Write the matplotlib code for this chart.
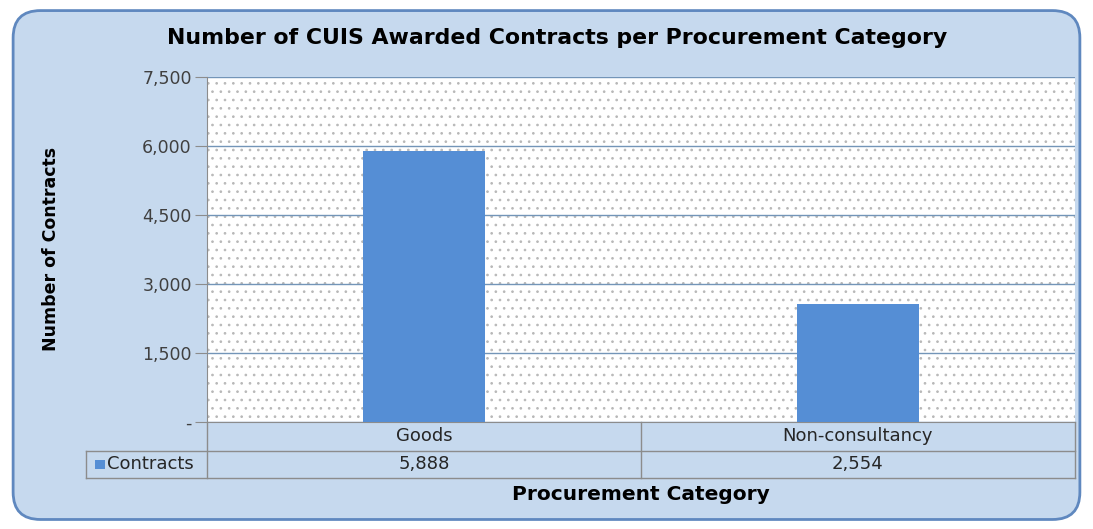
import matplotlib.pyplot as plt
from matplotlib.patches import FancyBboxPatch, Rectangle
import matplotlib.transforms as mtransforms

categories = ["Goods", "Non-consultancy"]
contracts = [5888, 2554]
series_name = "Contracts"
yticks = [0, 1500, 3000, 4500, 6000, 7500]
ytick_labels = ["-", "1,500", "3,000", "4,500", "6,000", "7,500"]

plt.rcParams['font.family'] = ['DejaVu Sans']
plt.rcParams['hatch.linewidth'] = 0.7

bar_color = '#558ed5'
grid_color = '#7395b8'
line_color = '#8c8c8c'
text_color = '#262626'

fig = plt.figure(figsize=(10.93, 5.29), dpi=100)
fig.patch.set_facecolor('white')

# rounded chart-area background
bg = FancyBboxPatch((0.012, 0.018), 0.976, 0.962, boxstyle="round,pad=0,rounding_size=0.025",
                    transform=fig.transFigure, facecolor='#c6d9ee', edgecolor='#5f88bf',
                    linewidth=2, mutation_aspect=1093/529, zorder=-5)
fig.patches.append(bg)

ax = fig.add_axes([0.1894, 0.2023, 0.7941, 0.6522])
ax.set_facecolor('white')
# dotted plot-area fill
ax.add_patch(Rectangle((0, 0), 1, 1, transform=ax.transAxes, facecolor='white',
                       edgecolor='#b8b8b8', linewidth=0, hatch='..', zorder=0.5))

x = list(range(len(categories)))
ax.bar(x, contracts, width=0.28, color=bar_color, zorder=3)
ax.set_xlim(-0.5, len(categories) - 0.5)
ax.set_ylim(0, 7500)
ax.set_yticks(yticks)
ax.set_yticklabels(ytick_labels, fontsize=12.5, color='#404040')
ax.tick_params(axis='y', length=9, color=line_color, pad=2)
ax.set_xticks([])
ax.grid(axis='y', color=grid_color, linewidth=1, zorder=1)
for s in ['top', 'right']:
    ax.spines[s].set_visible(False)
ax.spines['left'].set_color(line_color)
ax.spines['bottom'].set_color(line_color)

# data table below the plot
trans = mtransforms.blended_transform_factory(ax.transData, ax.transAxes)
r1, r2 = -0.084, -0.162
left = -0.139
kw = dict(transform=ax.transAxes, color=line_color, linewidth=1, clip_on=False)
ax.plot([left, 1], [r1, r1], **kw)
ax.plot([left, 1], [r2, r2], **kw)
ax.plot([left, left], [r1, r2], **kw)
ax.plot([0, 0], [0, r2], **kw)
ax.plot([1, 1], [0, r2], **kw)
for i in range(1, len(categories)):
    ax.plot([i - 0.5, i - 0.5], [0, r2], transform=trans, color=line_color, linewidth=1, clip_on=False)
for i, (c, v) in enumerate(zip(categories, contracts)):
    ax.text(i, r1 / 2, c, transform=trans, ha='center', va='center', fontsize=13, color=text_color)
    ax.text(i, (r1 + r2) / 2, f"{v:,}", transform=trans, ha='center', va='center', fontsize=13, color=text_color)
ax.add_patch(Rectangle((left + 0.01, (r1 + r2) / 2 - 0.014), 0.011, 0.028, transform=ax.transAxes,
                       facecolor=bar_color, edgecolor='none', clip_on=False))
ax.text(left + 0.024, (r1 + r2) / 2, series_name, transform=ax.transAxes, ha='left', va='center',
        fontsize=13, color=text_color)

fig.text(0.51, 0.928, "Number of CUIS Awarded Contracts per Procurement Category",
         ha='center', va='center', fontsize=15.8, fontweight='bold', color='black')
fig.text(0.047, 0.53, "Number of Contracts", rotation=90, ha='center', va='center',
         fontsize=12.5, fontweight='bold', color='black')
fig.text(0.586, 0.066, "Procurement Category", ha='center', va='center',
         fontsize=14.5, fontweight='bold', color='black')

fig.savefig('out.png', dpi=100)
